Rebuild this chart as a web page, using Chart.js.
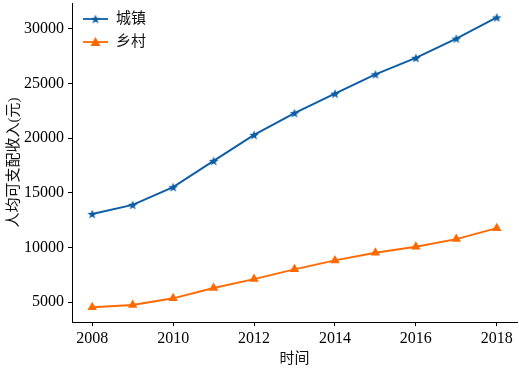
<!DOCTYPE html>
<html>
<head>
<meta charset="utf-8">
<script src="https://cdn.jsdelivr.net/npm/chart.js@4.4.1/dist/chart.umd.min.js"></script>
<style>
  html, body { margin: 0; padding: 0; background: #fff; }
  #wrap { width: 519px; height: 368px; }
</style>
</head>
<body>
<div id="wrap"><canvas id="chart" width="519" height="368"></canvas></div>
<script>
const years = [2008, 2009, 2010, 2011, 2012, 2013, 2014, 2015, 2016, 2017, 2018];
const urban = [13060, 13900, 15520, 17920, 20300, 22300, 24080, 25850, 27350, 29120, 31060];
const rural = [4520, 4730, 5340, 6280, 7100, 7990, 8810, 9510, 10060, 10760, 11760];
const xTicks = [2008, 2010, 2012, 2014, 2016, 2018];
const yTicks = [5000, 10000, 15000, 20000, 25000, 30000];
const seriesNames = ['城镇', '乡村'];

const BLUE = '#0C5DA5';
const ORANGE = '#FF6A00';
const FONT = '"Liberation Serif", "Noto Sans CJK SC", serif';

// filled five point star, like the matplotlib '*' marker
function makeStar(color, size) {
    const c = document.createElement('canvas');
    c.width = size;
    c.height = size;
    const g = c.getContext('2d');
    const cx = size / 2, cy = size / 2;
    const outer = size / 2, inner = outer * 0.42;
    g.beginPath();
    for (let i = 0; i < 10; i++) {
        const r = i % 2 === 0 ? outer : inner;
        const a = -Math.PI / 2 + i * Math.PI / 5;
        const px = cx + r * Math.cos(a);
        const py = cy + r * Math.sin(a) + size * 0.05;
        if (i === 0) g.moveTo(px, py); else g.lineTo(px, py);
    }
    g.closePath();
    g.fillStyle = color;
    g.fill();
    return c;
}
const starImg = makeStar(BLUE, 10);

// no label overhang padding, so the plot box sits where the reference has it
const noPadding = () => ({ left: 0, top: 0, right: 0, bottom: 0 });

// legend drawn inside the plot, top left, with line + marker
const innerLegend = {
    id: 'innerLegend',
    afterDraw(chart) {
        const ctx = chart.ctx;
        const area = chart.chartArea;
        const items = [
            { label: seriesNames[0], color: BLUE, marker: 'star' },
            { label: seriesNames[1], color: ORANGE, marker: 'triangle' }
        ];
        ctx.save();
        items.forEach((it, i) => {
            const y = area.top + 16 + i * 23;
            const x0 = area.left + 11;
            const x1 = x0 + 25;
            ctx.strokeStyle = it.color;
            ctx.lineWidth = 1.8;
            ctx.beginPath();
            ctx.moveTo(x0, y);
            ctx.lineTo(x1, y);
            ctx.stroke();
            const mx = (x0 + x1) / 2;
            if (it.marker === 'star') {
                ctx.drawImage(starImg, mx - 5, y - 5);
            } else {
                ctx.fillStyle = it.color;
                ctx.beginPath();
                ctx.moveTo(mx, y - 5);
                ctx.lineTo(mx + 5, y + 4);
                ctx.lineTo(mx - 5, y + 4);
                ctx.closePath();
                ctx.fill();
            }
            ctx.fillStyle = '#111';
            ctx.font = '15px ' + FONT;
            ctx.textBaseline = 'middle';
            ctx.fillText(it.label, x1 + 8, y);
        });
        ctx.restore();
    }
};

const ctx = document.getElementById('chart').getContext('2d');
new Chart(ctx, {
    type: 'line',
    data: {
        datasets: [
            {
                label: seriesNames[0],
                data: years.map((y, i) => ({ x: y, y: urban[i] })),
                borderColor: BLUE,
                backgroundColor: BLUE,
                borderWidth: 1.9,
                pointStyle: starImg,
                pointRadius: 5,
                tension: 0
            },
            {
                label: seriesNames[1],
                data: years.map((y, i) => ({ x: y, y: rural[i] })),
                borderColor: ORANGE,
                backgroundColor: ORANGE,
                borderWidth: 1.9,
                pointStyle: 'triangle',
                pointRadius: 5.5,
                pointBorderWidth: 0,
                tension: 0
            }
        ]
    },
    options: {
        responsive: false,
        animation: false,
        events: [],
        layout: { autoPadding: false, padding: { top: 3, right: 2, left: 0, bottom: 0 } },
        plugins: {
            legend: { display: false },
            tooltip: { enabled: false }
        },
        scales: {
            x: {
                type: 'linear',
                min: 2007.5,
                max: 2018.5,
                afterBuildTicks: (scale) => { scale.ticks = xTicks.map(v => ({ value: v })); },
                afterFit: (scale) => {
                    scale.height = 46;
                    scale.paddingLeft = 0;
                    scale.paddingRight = 0;
                    scale.getPadding = noPadding;
                },
                grid: { display: true, drawOnChartArea: false, drawTicks: true, tickLength: 4, color: '#000' },
                border: { display: true, color: '#000', width: 1 },
                ticks: {
                    color: '#000',
                    font: { family: FONT, size: 16 },
                    padding: 3,
                    maxRotation: 0,
                    callback: (v) => String(v)
                },
                title: {
                    display: true,
                    text: '时间',
                    color: '#111',
                    font: { family: FONT, size: 15 },
                    padding: { top: 3, bottom: 0 }
                }
            },
            y: {
                type: 'linear',
                min: 3170,
                max: 32380,
                afterBuildTicks: (scale) => { scale.ticks = yTicks.map(v => ({ value: v })); },
                afterFit: (scale) => {
                    scale.width = 72;
                    scale.paddingTop = 0;
                    scale.paddingBottom = 0;
                    scale.getPadding = noPadding;
                },
                grid: { display: true, drawOnChartArea: false, drawTicks: true, tickLength: 4, color: '#000' },
                border: { display: true, color: '#000', width: 1 },
                ticks: {
                    color: '#000',
                    font: { family: FONT, size: 16 },
                    padding: 4,
                    callback: (v) => String(v)
                },
                title: {
                    display: true,
                    text: '人均可支配收入(元)',
                    color: '#111',
                    font: { family: FONT, size: 15 },
                    padding: { top: 5, bottom: 2 }
                }
            }
        }
    },
    plugins: [innerLegend]
});
</script>
</body>
</html>
